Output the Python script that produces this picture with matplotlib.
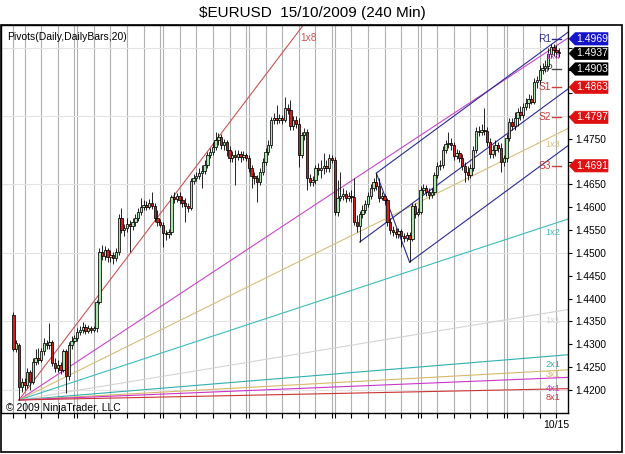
import numpy as np
import matplotlib
matplotlib.use("Agg")
import matplotlib.pyplot as plt
import matplotlib.transforms as mtransforms
from matplotlib.patches import Polygon, Rectangle
from matplotlib.ticker import FixedFormatter

plt.rcParams['font.family'] = ['Liberation Sans', 'DejaVu Sans']

# 240 min bars, 1 Sep -> 15 Oct 2009, sunday sessions are one bar
session_bars = [4, 6, 6, 6,
                1, 6, 6, 6, 6, 6,
                1, 6, 6, 6, 6, 6,
                1, 6, 6, 6, 6, 6,
                1, 6, 6, 6, 6, 6,
                1, 6, 6, 6, 6, 6,
                1, 6, 6, 6, 2]
last_session_label = "10/15"

opens = [
    1.4364, 1.4289, 1.4298, 1.4207, 1.4218, 1.4211, 1.4239, 1.4218, 1.4261, 1.4270,
    1.4266, 1.4285, 1.4303, 1.4298, 1.4305, 1.4259, 1.4248, 1.4255, 1.4244, 1.4285,
    1.4231, 1.4298, 1.4307, 1.4314, 1.4327, 1.4331, 1.4338, 1.4329, 1.4336, 1.4331,
    1.4336, 1.4393, 1.4502, 1.4493, 1.4507, 1.4491, 1.4496, 1.4489, 1.4502, 1.4577,
    1.4550, 1.4555, 1.4563, 1.4559, 1.4568, 1.4577, 1.4590, 1.4601, 1.4605, 1.4601,
    1.4610, 1.4603, 1.4577, 1.4568, 1.4561, 1.4544, 1.4541, 1.4546, 1.4623, 1.4618,
    1.4625, 1.4616, 1.4610, 1.4603, 1.4598, 1.4658, 1.4664, 1.4669, 1.4675, 1.4679,
    1.4693, 1.4715, 1.4721, 1.4732, 1.4747, 1.4754, 1.4737, 1.4743, 1.4726, 1.4708,
    1.4715, 1.4710, 1.4717, 1.4710, 1.4715, 1.4708, 1.4686, 1.4669, 1.4664, 1.4655,
    1.4677, 1.4699, 1.4721, 1.4737, 1.4791, 1.4796, 1.4791, 1.4796, 1.4791, 1.4817,
    1.4813, 1.4778, 1.4791, 1.4782, 1.4715, 1.4758, 1.4765, 1.4664, 1.4655, 1.4660,
    1.4686, 1.4682, 1.4686, 1.4690, 1.4686, 1.4708, 1.4704, 1.4590, 1.4620, 1.4625,
    1.4629, 1.4620, 1.4625, 1.4623, 1.4568, 1.4559, 1.4585, 1.4594, 1.4607, 1.4625,
    1.4642, 1.4655, 1.4647, 1.4620, 1.4625, 1.4616, 1.4568, 1.4550, 1.4546, 1.4541,
    1.4548, 1.4537, 1.4533, 1.4539, 1.4530, 1.4603, 1.4585, 1.4590, 1.4638, 1.4642,
    1.4634, 1.4627, 1.4634, 1.4671, 1.4690, 1.4693, 1.4726, 1.4739, 1.4741, 1.4737,
    1.4712, 1.4719, 1.4708, 1.4690, 1.4677, 1.4671, 1.4686, 1.4726, 1.4767, 1.4765,
    1.4769, 1.4767, 1.4743, 1.4717, 1.4726, 1.4737, 1.4730, 1.4699, 1.4708, 1.4752,
    1.4787, 1.4778, 1.4796, 1.4809, 1.4802, 1.4820, 1.4828, 1.4837, 1.4831, 1.4874,
    1.4879, 1.4901, 1.4905, 1.4910, 1.4936, 1.4951, 1.4945, 1.4940]
highs = [
    1.4371, 1.4310, 1.4303, 1.4226, 1.4226, 1.4248, 1.4244, 1.4270, 1.4289, 1.4292,
    1.4292, 1.4314, 1.4310, 1.4347, 1.4310, 1.4270, 1.4266, 1.4261, 1.4289, 1.4289,
    1.4305, 1.4318, 1.4320, 1.4336, 1.4340, 1.4349, 1.4344, 1.4342, 1.4340, 1.4340,
    1.4397, 1.4511, 1.4517, 1.4515, 1.4511, 1.4507, 1.4502, 1.4511, 1.4585, 1.4598,
    1.4563, 1.4577, 1.4572, 1.4577, 1.4585, 1.4598, 1.4620, 1.4616, 1.4614, 1.4618,
    1.4634, 1.4610, 1.4594, 1.4574, 1.4568, 1.4550, 1.4552, 1.4627, 1.4634, 1.4631,
    1.4634, 1.4625, 1.4620, 1.4610, 1.4664, 1.4673, 1.4677, 1.4686, 1.4693, 1.4704,
    1.4721, 1.4730, 1.4743, 1.4765, 1.4763, 1.4761, 1.4750, 1.4747, 1.4734, 1.4723,
    1.4726, 1.4726, 1.4723, 1.4723, 1.4719, 1.4715, 1.4693, 1.4677, 1.4671, 1.4686,
    1.4708, 1.4730, 1.4747, 1.4798, 1.4807, 1.4824, 1.4804, 1.4802, 1.4841, 1.4826,
    1.4835, 1.4800, 1.4800, 1.4796, 1.4765, 1.4774, 1.4771, 1.4673, 1.4669, 1.4693,
    1.4697, 1.4704, 1.4719, 1.4704, 1.4717, 1.4715, 1.4710, 1.4660, 1.4677, 1.4642,
    1.4638, 1.4634, 1.4638, 1.4664, 1.4583, 1.4592, 1.4605, 1.4616, 1.4634, 1.4651,
    1.4664, 1.4675, 1.4664, 1.4634, 1.4629, 1.4620, 1.4577, 1.4559, 1.4555, 1.4555,
    1.4552, 1.4544, 1.4546, 1.4546, 1.4610, 1.4610, 1.4598, 1.4647, 1.4651, 1.4649,
    1.4642, 1.4642, 1.4677, 1.4699, 1.4704, 1.4734, 1.4747, 1.4765, 1.4752, 1.4743,
    1.4728, 1.4726, 1.4717, 1.4699, 1.4690, 1.4695, 1.4734, 1.4776, 1.4778, 1.4782,
    1.4817, 1.4776, 1.4752, 1.4737, 1.4747, 1.4743, 1.4741, 1.4715, 1.4761, 1.4796,
    1.4796, 1.4809, 1.4817, 1.4822, 1.4828, 1.4839, 1.4848, 1.4846, 1.4883, 1.4888,
    1.4912, 1.4916, 1.4923, 1.4949, 1.4958, 1.4958, 1.4955, 1.4949]
lows = [
    1.4285, 1.4283, 1.4178, 1.4196, 1.4200, 1.4204, 1.4200, 1.4213, 1.4255, 1.4257,
    1.4261, 1.4277, 1.4289, 1.4289, 1.4252, 1.4239, 1.4239, 1.4235, 1.4239, 1.4193,
    1.4222, 1.4289, 1.4303, 1.4307, 1.4320, 1.4325, 1.4323, 1.4325, 1.4325, 1.4327,
    1.4327, 1.4388, 1.4485, 1.4485, 1.4480, 1.4480, 1.4476, 1.4482, 1.4496, 1.4544,
    1.4537, 1.4546, 1.4502, 1.4550, 1.4559, 1.4570, 1.4583, 1.4594, 1.4594, 1.4596,
    1.4596, 1.4568, 1.4559, 1.4557, 1.4513, 1.4528, 1.4533, 1.4539, 1.4610, 1.4612,
    1.4607, 1.4601, 1.4568, 1.4590, 1.4594, 1.4651, 1.4658, 1.4662, 1.4642, 1.4673,
    1.4686, 1.4708, 1.4715, 1.4726, 1.4737, 1.4728, 1.4726, 1.4712, 1.4699, 1.4699,
    1.4649, 1.4704, 1.4699, 1.4704, 1.4701, 1.4677, 1.4642, 1.4651, 1.4612, 1.4649,
    1.4671, 1.4693, 1.4715, 1.4730, 1.4782, 1.4782, 1.4785, 1.4782, 1.4787, 1.4804,
    1.4769, 1.4769, 1.4774, 1.4688, 1.4708, 1.4747, 1.4638, 1.4647, 1.4647, 1.4651,
    1.4671, 1.4664, 1.4673, 1.4677, 1.4677, 1.4697, 1.4583, 1.4581, 1.4614, 1.4616,
    1.4612, 1.4614, 1.4612, 1.4561, 1.4546, 1.4524, 1.4577, 1.4588, 1.4601, 1.4618,
    1.4636, 1.4638, 1.4612, 1.4616, 1.4605, 1.4559, 1.4541, 1.4537, 1.4533, 1.4533,
    1.4513, 1.4524, 1.4526, 1.4480, 1.4526, 1.4577, 1.4581, 1.4585, 1.4629, 1.4625,
    1.4618, 1.4620, 1.4627, 1.4664, 1.4682, 1.4686, 1.4719, 1.4730, 1.4726, 1.4704,
    1.4706, 1.4699, 1.4682, 1.4655, 1.4660, 1.4664, 1.4679, 1.4719, 1.4756, 1.4758,
    1.4758, 1.4734, 1.4708, 1.4708, 1.4712, 1.4721, 1.4677, 1.4690, 1.4699, 1.4745,
    1.4769, 1.4769, 1.4778, 1.4791, 1.4796, 1.4813, 1.4817, 1.4826, 1.4826, 1.4862,
    1.4870, 1.4892, 1.4896, 1.4901, 1.4927, 1.4931, 1.4927, 1.4929]
closes = [
    1.4289, 1.4303, 1.4207, 1.4218, 1.4211, 1.4239, 1.4218, 1.4261, 1.4270, 1.4266,
    1.4285, 1.4303, 1.4298, 1.4305, 1.4259, 1.4248, 1.4255, 1.4244, 1.4285, 1.4231,
    1.4298, 1.4307, 1.4314, 1.4327, 1.4331, 1.4338, 1.4329, 1.4336, 1.4331, 1.4336,
    1.4393, 1.4502, 1.4493, 1.4507, 1.4491, 1.4496, 1.4489, 1.4502, 1.4577, 1.4550,
    1.4555, 1.4563, 1.4559, 1.4568, 1.4577, 1.4590, 1.4601, 1.4605, 1.4601, 1.4610,
    1.4603, 1.4577, 1.4568, 1.4561, 1.4544, 1.4541, 1.4546, 1.4623, 1.4618, 1.4625,
    1.4616, 1.4610, 1.4603, 1.4598, 1.4658, 1.4664, 1.4669, 1.4675, 1.4679, 1.4693,
    1.4715, 1.4721, 1.4732, 1.4747, 1.4754, 1.4737, 1.4743, 1.4726, 1.4708, 1.4715,
    1.4710, 1.4717, 1.4710, 1.4715, 1.4708, 1.4686, 1.4669, 1.4664, 1.4655, 1.4677,
    1.4699, 1.4721, 1.4737, 1.4791, 1.4796, 1.4791, 1.4796, 1.4791, 1.4817, 1.4813,
    1.4778, 1.4791, 1.4782, 1.4715, 1.4758, 1.4765, 1.4664, 1.4655, 1.4660, 1.4686,
    1.4682, 1.4686, 1.4690, 1.4686, 1.4708, 1.4704, 1.4590, 1.4620, 1.4625, 1.4629,
    1.4620, 1.4625, 1.4623, 1.4568, 1.4559, 1.4585, 1.4594, 1.4607, 1.4625, 1.4642,
    1.4655, 1.4647, 1.4620, 1.4625, 1.4616, 1.4568, 1.4550, 1.4546, 1.4541, 1.4548,
    1.4537, 1.4533, 1.4539, 1.4530, 1.4603, 1.4585, 1.4590, 1.4638, 1.4642, 1.4634,
    1.4627, 1.4634, 1.4671, 1.4690, 1.4693, 1.4726, 1.4739, 1.4741, 1.4737, 1.4712,
    1.4719, 1.4708, 1.4690, 1.4677, 1.4671, 1.4686, 1.4726, 1.4767, 1.4765, 1.4769,
    1.4767, 1.4743, 1.4717, 1.4726, 1.4737, 1.4730, 1.4699, 1.4708, 1.4752, 1.4787,
    1.4778, 1.4796, 1.4809, 1.4802, 1.4820, 1.4828, 1.4837, 1.4831, 1.4874, 1.4879,
    1.4901, 1.4905, 1.4910, 1.4936, 1.4951, 1.4945, 1.4940, 1.4937]

# pivots of the current day
pivot_names = ["R1", "P", "S1", "S2", "S3"]
pivot_levels = [1.4969, 1.4903, 1.4863, 1.4797, 1.4691]
pivot_colors = ["#2c2c90", "#444444", "#c84040", "#c84040", "#c84040"]

# price markers on the right scale
marker_prices = [1.4969, 1.4937, 1.4903, 1.4863, 1.4797, 1.4691]
marker_colors = ["#1414c8", "black", "black", "#e01010", "#e01010", "#e01010"]

# gann fan from the low of bar 2, 1x1 = 1 pip per bar
fan_bar = 2
fan_unit = 0.0001
fan_names = ["1x8", "1x4", "1x3", "1x2", "1x1", "2x1", "3x1", "4x1", "8x1"]
fan_colors = {"1x8": "#cc5555", "8x1": "#cc3333",
              "1x4": "#cc44cc", "4x1": "#cc33cc",
              "1x3": "#d6bf7a", "3x1": "#d6b866",
              "1x2": "#3cbcbc", "2x1": "#2fb0b0",
              "1x1": "#d4d4d4"}
# label drop below the line end, points (the flat ones are packed tight)
fan_label_drop = {"3x1": -3, "4x1": -7.5}

# andrews pitchfork anchors (bar index)
fork_bars = [125, 131, 143]

ylo, yhi = 1.41495, 1.49993
xlo, xhi = -4.5, 200.2
hgrid = [1.4200, 1.4350, 1.4500, 1.4650, 1.4800, 1.4950]

fig = plt.figure(figsize=(6.25, 4.54), dpi=100)
ax = fig.add_axes([0.0016, 0.0903, 0.9072, 0.8546])
ax.set_xlim(xlo, xhi)
ax.set_ylim(ylo, yhi)

o = np.array(opens); h = np.array(highs); l = np.array(lows); c = np.array(closes)
x = np.arange(len(c))

starts = np.concatenate([[0], np.cumsum(session_bars)[:-1]])

# grid
for s in starts:
    ax.axvline(s, color="#b0b0b0", lw=0.8, zorder=0)
for g in hgrid:
    ax.axhline(g, color="#e3e3e3", lw=0.8, zorder=0)

# gann fan
p0 = l[fan_bar]
for name in fan_names:
    t, p = map(int, name.split("x"))
    slope = fan_unit * p / t
    xs = np.array([fan_bar, xhi])
    ax.plot(xs, p0 + slope * (xs - fan_bar), color=fan_colors[name], lw=0.8, zorder=1)
    yend = p0 + slope * (xhi - fan_bar)
    if yend > yhi:
        xe = fan_bar + (yhi - p0) / slope
        ax.annotate(name, (xe, yhi), xytext=(4, -9), textcoords="offset points",
                    ha="center", va="center", fontsize=7.3, color=fan_colors[name], zorder=5)
    else:
        xl = 194.7
        ax.annotate(name, (xl, p0 + slope * (xl - fan_bar)),
                    xytext=(0, fan_label_drop.get(name, -6)),
                    textcoords="offset points", ha="center", va="center",
                    fontsize=6.6, color=fan_colors[name], zorder=5)

# pitchfork
b0, b1, b2 = fork_bars
f0, f1, f2 = l[b0], h[b1], l[b2]
mb, mp = (b1 + b2) / 2, (f1 + f2) / 2
fslope = (mp - f0) / (mb - b0)
fork_col = "#2a2a96"
ax.plot([b0, xhi], [f0, f0 + fslope * (xhi - b0)], color=fork_col, lw=0.8, zorder=2)
ax.plot([b1, xhi], [f1, f1 + fslope * (xhi - b1)], color=fork_col, lw=0.8, zorder=2)
ax.plot([b2, xhi], [f2, f2 + fslope * (xhi - b2)], color=fork_col, lw=0.8, zorder=2)
ax.plot([b1, b2], [f1, f2], color=fork_col, lw=0.8, zorder=2)

# pivot dashes + labels
for name, lv, col in zip(pivot_names, pivot_levels, pivot_colors):
    ax.plot([194.6, 197.5], [lv, lv], color=col, lw=1.0, zorder=2)
    ax.text(194.2, lv, name, ha="right", va="center", fontsize=7.3, color=col, zorder=2)

# candles
up = c >= o
ax.vlines(x, l, h, color="black", lw=0.6, zorder=3)
ax.bar(x, np.maximum(np.abs(c - o), 0.00008), bottom=np.minimum(o, c), width=0.85,
       color=np.where(up, "#ace6ac", "#d01f1f"), edgecolor="black", linewidth=0.55, zorder=4)

# axes styling
ax.set_xticks(starts)
ax.set_xticklabels([""] * (len(starts) - 1) + [last_session_label])
ax.tick_params(axis="x", length=3.6, width=0.8, pad=1.5, labelsize=7.5, direction="out")
ax.yaxis.tick_right()
yt = np.round(np.arange(1.4200, 1.4999, 0.005), 4)
ax.set_yticks(yt)
# labels covered by the price markers are left blank
hidden = [v for v in yt if any(abs(v - m) < 0.0015 for m in marker_prices)]
ax.yaxis.set_major_formatter(FixedFormatter(["" if v in hidden else "%.4f" % v for v in yt]))
ax.tick_params(axis="y", length=3, width=0.8, pad=2, labelsize=7.3, direction="out")
for sp in ax.spines.values():
    sp.set_linewidth(1.0)

# price markers
trans = mtransforms.blended_transform_factory(ax.transAxes, ax.transData)
hh = 0.00135
for pr, col in zip(marker_prices, marker_colors):
    verts = [(1.002, pr), (1.0125, pr + hh), (1.0705, pr + hh), (1.0705, pr - hh), (1.0125, pr - hh)]
    ax.add_patch(Polygon(verts, closed=True, transform=trans, facecolor=col,
                         edgecolor=col, lw=0.5, clip_on=False, zorder=6))
    ax.text(1.042, pr, "%.4f" % pr, transform=trans, ha="center", va="center",
            fontsize=7.5, color="white", zorder=7, clip_on=False)

ax.text(0.0106, 0.970, "Pivots(Daily,DailyBars,20)", transform=ax.transAxes,
        ha="left", va="center", fontsize=7.5, zorder=7)
ax.text(0.0088, 0.013, "\u00a9 2009 NinjaTrader, LLC", transform=ax.transAxes,
        ha="left", va="center", fontsize=7.5, zorder=7)

fig.text(0.5, 0.9714, "\\$EURUSD  15/10/2009 (240 Min)", ha="center", va="center", fontsize=11)
fig.add_artist(Rectangle((0.0016, 0.0044), 0.9936, 0.9405, transform=fig.transFigure,
                         fill=False, lw=1.2, ec="black"))

fig.savefig("out.png", dpi=100)
